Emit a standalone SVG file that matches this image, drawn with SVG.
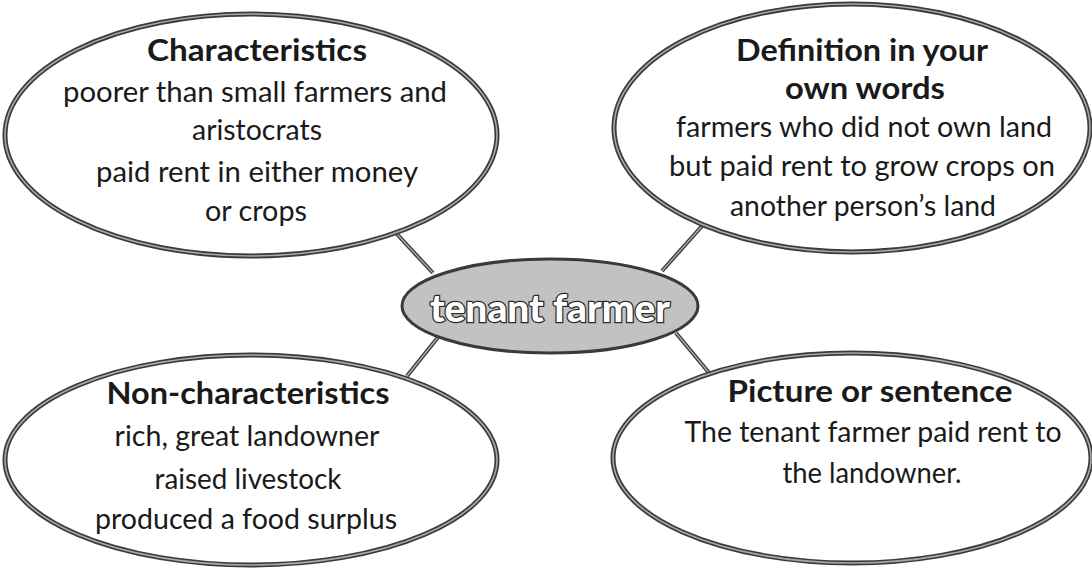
<svg xmlns="http://www.w3.org/2000/svg" width="1092" height="569" viewBox="0 0 1092 569">
  <style>
    .bubble-edge { fill: #ffffff; stroke: #3a3a3a; stroke-width: 5; }
    .bubble-band { fill: none; stroke: #a8a8a8; stroke-width: 1.6; }
    .hub-edge { fill: #c2c2c2; stroke: #3a3a3a; stroke-width: 3; }
    .head { font-family: Lato, "Open Sans", sans-serif; font-weight: 700; font-size: 31px; fill: #1a1a1a; text-anchor: middle; }
    .body { font-family: Lato, "Open Sans", sans-serif; font-size: 28px; fill: #1a1a1a; text-anchor: middle; }
    .hub-text { font-family: Lato, "Open Sans", sans-serif; font-weight: 900; font-size: 38px; fill: #ffffff; stroke: #2a2a2a; stroke-width: 2.5; paint-order: stroke; text-anchor: middle; }
    .link { stroke: #3a3a3a; stroke-width: 4; }
    .link-core { stroke: #b0b0b0; stroke-width: 1.3; }
  </style>
  <rect width="1092" height="569" fill="#ffffff"/>

  <!-- spokes from the hub to each bubble -->
  <g id="connectors">
    <line class="link" x1="395" y1="232" x2="433" y2="273"/>
    <line class="link-core" x1="395" y1="232" x2="433" y2="273"/>
    <line class="link" x1="702" y1="226" x2="662" y2="271"/>
    <line class="link-core" x1="702" y1="226" x2="662" y2="271"/>
    <line class="link" x1="439" y1="336" x2="407" y2="376"/>
    <line class="link-core" x1="439" y1="336" x2="407" y2="376"/>
    <line class="link" x1="676" y1="333" x2="710" y2="374"/>
    <line class="link-core" x1="676" y1="333" x2="710" y2="374"/>
  </g>

  <g id="characteristics">
    <ellipse class="bubble-edge" cx="251" cy="135" rx="246" ry="121"/>
    <ellipse class="bubble-band" cx="251" cy="135" rx="246" ry="121"/>
    <text class="head" x="257" y="61" textLength="220" lengthAdjust="spacingAndGlyphs">Characteristics</text>
    <text class="body" x="255" y="102" textLength="384" lengthAdjust="spacingAndGlyphs">poorer than small farmers and</text>
    <text class="body" x="257" y="140" textLength="130" lengthAdjust="spacingAndGlyphs">aristocrats</text>
    <text class="body" x="257" y="182" textLength="322" lengthAdjust="spacingAndGlyphs">paid rent in either money</text>
    <text class="body" x="256" y="221" textLength="102" lengthAdjust="spacingAndGlyphs">or crops</text>
  </g>

  <g id="definition">
    <ellipse class="bubble-edge" cx="852" cy="128" rx="238" ry="124"/>
    <ellipse class="bubble-band" cx="852" cy="128" rx="238" ry="124"/>
    <text class="head" x="862" y="61" textLength="252" lengthAdjust="spacingAndGlyphs">Definition in your</text>
    <text class="head" x="865" y="99" textLength="160" lengthAdjust="spacingAndGlyphs">own words</text>
    <text class="body" x="864" y="137" textLength="376" lengthAdjust="spacingAndGlyphs">farmers who did not own land</text>
    <text class="body" x="862" y="176" textLength="386" lengthAdjust="spacingAndGlyphs">but paid rent to grow crops on</text>
    <text class="body" x="863" y="216" textLength="266" lengthAdjust="spacingAndGlyphs">another person’s land</text>
  </g>

  <g id="tenant-farmer">
    <ellipse class="hub-edge" cx="550" cy="306" rx="148" ry="47"/>
    <text class="hub-text" x="550" y="322" textLength="240" lengthAdjust="spacingAndGlyphs">tenant farmer</text>
  </g>

  <g id="non-characteristics">
    <ellipse class="bubble-edge" cx="251" cy="460" rx="246" ry="105"/>
    <ellipse class="bubble-band" cx="251" cy="460" rx="246" ry="105"/>
    <text class="head" x="248" y="404" textLength="283" lengthAdjust="spacingAndGlyphs">Non-characteristics</text>
    <text class="body" x="247" y="446" textLength="265" lengthAdjust="spacingAndGlyphs">rich, great landowner</text>
    <text class="body" x="248" y="489" textLength="187" lengthAdjust="spacingAndGlyphs">raised livestock</text>
    <text class="body" x="246" y="529" textLength="302" lengthAdjust="spacingAndGlyphs">produced a food surplus</text>
  </g>

  <g id="picture-or-sentence">
    <ellipse class="bubble-edge" cx="852" cy="458" rx="239" ry="105"/>
    <ellipse class="bubble-band" cx="852" cy="458" rx="239" ry="105"/>
    <text class="head" x="870" y="402" textLength="285" lengthAdjust="spacingAndGlyphs">Picture or sentence</text>
    <text class="body" x="873" y="442" textLength="377" lengthAdjust="spacingAndGlyphs">The tenant farmer paid rent to</text>
    <text class="body" x="872" y="483" textLength="179" lengthAdjust="spacingAndGlyphs">the landowner.</text>
  </g>
</svg>
